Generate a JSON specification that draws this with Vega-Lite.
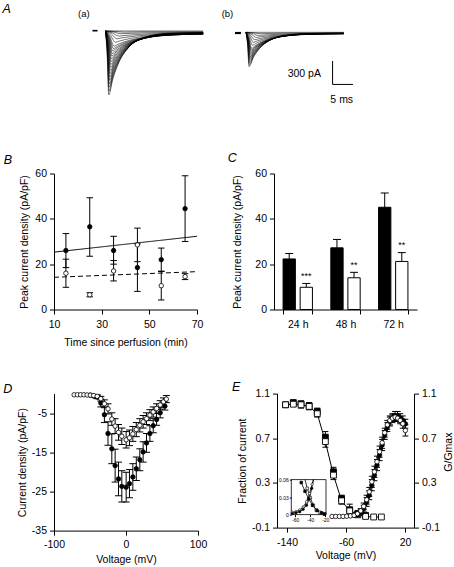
{
  "$schema": "https://vega.github.io/schema/vega-lite/v6.json",
  "padding": {"left": 2, "top": 3, "right": 0, "bottom": 0},
  "background": "white",
  "spacing": 32.6,
  "config": {
    "font": "Liberation Sans",
    "view": {"stroke": null},
    "locale": {"number": {"decimal": ".", "thousands": ",", "grouping": [3], "currency": ["$", ""], "minus": "-"}},
    "axis": {"grid": false, "domainColor": "#000", "domainWidth": 1, "tickColor": "#000", "tickWidth": 1, "tickSize": 4.5, "labelColor": "#000", "labelFontSize": 10.5, "labelFont": "Liberation Sans", "labelPadding": 3, "labelFlush": false, "labelOverlap": false, "titleColor": "#000", "titleFont": "Liberation Sans", "titleFontSize": 10.5, "titleFontWeight": "normal", "titlePadding": 4},
    "title": {"font": "Liberation Sans", "fontSize": 12.5, "fontStyle": "italic", "fontWeight": "normal", "anchor": "start", "frame": "group", "color": "#000", "baseline": "alphabetic", "offset": 0}
  },
  "datasets": {
    "ta": [
      {"k":"a0","t":0,"i":0},{"k":"a0","t":24,"i":0},
      {"k":"a1","t":0,"i":0},{"k":"a1","t":0.4,"i":-287},{"k":"a1","t":0.8,"i":-820},{"k":"a1","t":1.8,"i":-616},{"k":"a1","t":3.3,"i":-403},{"k":"a1","t":5.8,"i":-204},{"k":"a1","t":9.8,"i":-77},{"k":"a1","t":16,"i":-29},{"k":"a1","t":24,"i":-21},
      {"k":"c1","t":0,"i":0},{"k":"c1","t":0.425,"i":-270},{"k":"c1","t":0.85,"i":-770},{"k":"c1","t":1.85,"i":-584},{"k":"c1","t":3.35,"i":-388},{"k":"c1","t":5.85,"i":-201},{"k":"c1","t":9.85,"i":-78},{"k":"c1","t":16,"i":-31},{"k":"c1","t":24,"i":-22},
      {"k":"a2","t":0,"i":0},{"k":"a2","t":0.45,"i":-252},{"k":"a2","t":0.9,"i":-720},{"k":"a2","t":1.9,"i":-550},{"k":"a2","t":3.4,"i":-370},{"k":"a2","t":5.9,"i":-196},{"k":"a2","t":9.9,"i":-79},{"k":"a2","t":16,"i":-33},{"k":"a2","t":24,"i":-23},
      {"k":"c2","t":0,"i":0},{"k":"c2","t":0.475,"i":-236},{"k":"c2","t":0.95,"i":-675},{"k":"c2","t":1.95,"i":-521},{"k":"c2","t":3.45,"i":-355},{"k":"c2","t":5.95,"i":-193},{"k":"c2","t":9.95,"i":-81},{"k":"c2","t":16,"i":-35},{"k":"c2","t":24,"i":-25},
      {"k":"a3","t":0,"i":0},{"k":"a3","t":0.5,"i":-220},{"k":"a3","t":1.0,"i":-630},{"k":"a3","t":2.0,"i":-490},{"k":"a3","t":3.5,"i":-338},{"k":"a3","t":6.0,"i":-187},{"k":"a3","t":10,"i":-82},{"k":"a3","t":16,"i":-37},{"k":"a3","t":24,"i":-26},
      {"k":"c3","t":0,"i":0},{"k":"c3","t":0.525,"i":-206},{"k":"c3","t":1.05,"i":-588},{"k":"c3","t":2.05,"i":-461},{"k":"c3","t":3.55,"i":-322},{"k":"c3","t":6.05,"i":-182},{"k":"c3","t":10.05,"i":-82},{"k":"c3","t":16,"i":-38},{"k":"c3","t":24,"i":-28},
      {"k":"a4","t":0,"i":0},{"k":"a4","t":0.55,"i":-191},{"k":"a4","t":1.1,"i":-545},{"k":"a4","t":2.1,"i":-431},{"k":"a4","t":3.6,"i":-305},{"k":"a4","t":6.1,"i":-176},{"k":"a4","t":10.1,"i":-82},{"k":"a4","t":16,"i":-40},{"k":"a4","t":24,"i":-30},
      {"k":"c4","t":0,"i":0},{"k":"c4","t":0.59,"i":-177},{"k":"c4","t":1.18,"i":-505},{"k":"c4","t":2.18,"i":-403},{"k":"c4","t":3.68,"i":-290},{"k":"c4","t":6.18,"i":-172},{"k":"c4","t":10.18,"i":-83},{"k":"c4","t":16,"i":-42},{"k":"c4","t":24,"i":-31},
      {"k":"a5","t":0,"i":0},{"k":"a5","t":0.6,"i":-163},{"k":"a5","t":1.25,"i":-465},{"k":"a5","t":2.25,"i":-375},{"k":"a5","t":3.75,"i":-273},{"k":"a5","t":6.25,"i":-166},{"k":"a5","t":10.25,"i":-84},{"k":"a5","t":16,"i":-44},{"k":"a5","t":24,"i":-32},
      {"k":"c5","t":0,"i":0},{"k":"c5","t":0.66,"i":-150},{"k":"c5","t":1.32,"i":-428},{"k":"c5","t":2.32,"i":-348},{"k":"c5","t":3.82,"i":-257},{"k":"c5","t":6.32,"i":-160},{"k":"c5","t":10.32,"i":-84},{"k":"c5","t":16,"i":-46},{"k":"c5","t":24,"i":-34},
      {"k":"a6","t":0,"i":0},{"k":"a6","t":0.7,"i":-137},{"k":"a6","t":1.4,"i":-390},{"k":"a6","t":2.4,"i":-320},{"k":"a6","t":3.9,"i":-240},{"k":"a6","t":6.4,"i":-153},{"k":"a6","t":10.4,"i":-83},{"k":"a6","t":16,"i":-47},{"k":"a6","t":24,"i":-35},
      {"k":"c6","t":0,"i":0},{"k":"c6","t":0.75,"i":-124},{"k":"c6","t":1.5,"i":-355},{"k":"c6","t":2.5,"i":-294},{"k":"c6","t":4.0,"i":-224},{"k":"c6","t":6.5,"i":-147},{"k":"c6","t":10.5,"i":-82},{"k":"c6","t":16,"i":-48},{"k":"c6","t":24,"i":-36},
      {"k":"a7","t":0,"i":0},{"k":"a7","t":0.8,"i":-112},{"k":"a7","t":1.6,"i":-320},{"k":"a7","t":2.6,"i":-268},{"k":"a7","t":4.1,"i":-208},{"k":"a7","t":6.6,"i":-139},{"k":"a7","t":10.6,"i":-81},{"k":"a7","t":16,"i":-50},{"k":"a7","t":24,"i":-37},
      {"k":"c7","t":0,"i":0},{"k":"c7","t":0.85,"i":-101},{"k":"c7","t":1.7,"i":-288},{"k":"c7","t":2.7,"i":-244},{"k":"c7","t":4.2,"i":-192},{"k":"c7","t":6.7,"i":-133},{"k":"c7","t":10.7,"i":-81},{"k":"c7","t":16,"i":-52},{"k":"c7","t":24,"i":-38},
      {"k":"a8","t":0,"i":0},{"k":"a8","t":0.9,"i":-89},{"k":"a8","t":1.8,"i":-255},{"k":"a8","t":2.8,"i":-218},{"k":"a8","t":4.3,"i":-175},{"k":"a8","t":6.8,"i":-124},{"k":"a8","t":10.8,"i":-78},{"k":"a8","t":16,"i":-52},{"k":"a8","t":24,"i":-39},
      {"k":"c8","t":0,"i":0},{"k":"c8","t":0.975,"i":-79},{"k":"c8","t":1.95,"i":-225},{"k":"c8","t":2.95,"i":-195},{"k":"c8","t":4.45,"i":-158},{"k":"c8","t":6.95,"i":-115},{"k":"c8","t":10.95,"i":-75},{"k":"c8","t":16,"i":-51},{"k":"c8","t":24,"i":-39},
      {"k":"a9","t":0,"i":0},{"k":"a9","t":1.05,"i":-68},{"k":"a9","t":2.1,"i":-195},{"k":"a9","t":3.1,"i":-170},{"k":"a9","t":4.6,"i":-140},{"k":"a9","t":7.1,"i":-105},{"k":"a9","t":11.1,"i":-71},{"k":"a9","t":16,"i":-51},{"k":"a9","t":24,"i":-39},
      {"k":"a10","t":0,"i":0},{"k":"a10","t":1.2,"i":-51},{"k":"a10","t":2.4,"i":-145},{"k":"a10","t":3.4,"i":-129},{"k":"a10","t":4.9,"i":-109},{"k":"a10","t":7.4,"i":-84},{"k":"a10","t":11.4,"i":-60},{"k":"a10","t":16,"i":-46},{"k":"a10","t":24,"i":-36},
      {"k":"a11","t":0,"i":0},{"k":"a11","t":1.4,"i":-35},{"k":"a11","t":2.8,"i":-100},{"k":"a11","t":3.8,"i":-90},{"k":"a11","t":5.3,"i":-78},{"k":"a11","t":7.8,"i":-63},{"k":"a11","t":11.8,"i":-48},{"k":"a11","t":16,"i":-39},{"k":"a11","t":24,"i":-31},
      {"k":"a12","t":0,"i":0},{"k":"a12","t":1.65,"i":-23},{"k":"a12","t":3.3,"i":-65},{"k":"a12","t":4.3,"i":-60},{"k":"a12","t":5.8,"i":-53},{"k":"a12","t":8.3,"i":-44},{"k":"a12","t":12.3,"i":-35},{"k":"a12","t":16,"i":-30},{"k":"a12","t":24,"i":-25},
      {"k":"a13","t":0,"i":0},{"k":"a13","t":1.9,"i":-12},{"k":"a13","t":3.8,"i":-35},{"k":"a13","t":4.8,"i":-33},{"k":"a13","t":6.3,"i":-30},{"k":"a13","t":8.8,"i":-26},{"k":"a13","t":12.8,"i":-22},{"k":"a13","t":16,"i":-19},{"k":"a13","t":24,"i":-17},
      {"k":"a14","t":0,"i":0},{"k":"a14","t":2.25,"i":-5},{"k":"a14","t":4.5,"i":-15},{"k":"a14","t":5.5,"i":-14},{"k":"a14","t":7,"i":-13},{"k":"a14","t":9.5,"i":-11},{"k":"a14","t":13.5,"i":-10},{"k":"a14","t":16,"i":-9.5},{"k":"a14","t":24,"i":-8.5}
    ],
    "tb": [
      {"k":"b0","t":0,"i":0},{"k":"b0","t":24,"i":0},
      {"k":"b1","t":0,"i":0},{"k":"b1","t":0.375,"i":-154},{"k":"b1","t":0.75,"i":-440},{"k":"b1","t":1.75,"i":-328},{"k":"b1","t":3.25,"i":-212},{"k":"b1","t":5.75,"i":-105},{"k":"b1","t":9.75,"i":-38},{"k":"b1","t":16,"i":-14},{"k":"b1","t":24,"i":-10},
      {"k":"d1","t":0,"i":0},{"k":"d1","t":0.4,"i":-144},{"k":"d1","t":0.8,"i":-412},{"k":"d1","t":1.8,"i":-310},{"k":"d1","t":3.3,"i":-203},{"k":"d1","t":5.8,"i":-103},{"k":"d1","t":9.8,"i":-39},{"k":"d1","t":16,"i":-16},{"k":"d1","t":24,"i":-11},
      {"k":"b2","t":0,"i":0},{"k":"b2","t":0.425,"i":-135},{"k":"b2","t":0.85,"i":-385},{"k":"b2","t":1.85,"i":-292},{"k":"b2","t":3.35,"i":-195},{"k":"b2","t":5.85,"i":-101},{"k":"b2","t":9.85,"i":-40},{"k":"b2","t":16,"i":-17},{"k":"b2","t":24,"i":-12},
      {"k":"d2","t":0,"i":0},{"k":"d2","t":0.45,"i":-126},{"k":"d2","t":0.9,"i":-360},{"k":"d2","t":1.9,"i":-276},{"k":"d2","t":3.4,"i":-186},{"k":"d2","t":5.9,"i":-100},{"k":"d2","t":9.9,"i":-41},{"k":"d2","t":16,"i":-18},{"k":"d2","t":24,"i":-13},
      {"k":"b3","t":0,"i":0},{"k":"b3","t":0.475,"i":-117},{"k":"b3","t":0.95,"i":-335},{"k":"b3","t":1.95,"i":-259},{"k":"b3","t":3.45,"i":-177},{"k":"b3","t":5.95,"i":-97},{"k":"b3","t":9.95,"i":-42},{"k":"b3","t":16,"i":-19},{"k":"b3","t":24,"i":-15},
      {"k":"d3","t":0,"i":0},{"k":"d3","t":0.5,"i":-109},{"k":"d3","t":1.0,"i":-312},{"k":"d3","t":2.0,"i":-243},{"k":"d3","t":3.5,"i":-169},{"k":"d3","t":6.0,"i":-94},{"k":"d3","t":10,"i":-42},{"k":"d3","t":16,"i":-20},{"k":"d3","t":24,"i":-15},
      {"k":"b4","t":0,"i":0},{"k":"b4","t":0.525,"i":-102},{"k":"b4","t":1.05,"i":-290},{"k":"b4","t":2.05,"i":-228},{"k":"b4","t":3.55,"i":-160},{"k":"b4","t":6.05,"i":-91},{"k":"b4","t":10.05,"i":-42},{"k":"b4","t":16,"i":-21},{"k":"b4","t":24,"i":-16},
      {"k":"d4","t":0,"i":0},{"k":"d4","t":0.56,"i":-93},{"k":"d4","t":1.12,"i":-267},{"k":"d4","t":2.12,"i":-212},{"k":"d4","t":3.62,"i":-151},{"k":"d4","t":6.12,"i":-89},{"k":"d4","t":10.12,"i":-43},{"k":"d4","t":16,"i":-22},{"k":"d4","t":24,"i":-16},
      {"k":"b5","t":0,"i":0},{"k":"b5","t":0.6,"i":-86},{"k":"b5","t":1.2,"i":-245},{"k":"b5","t":2.2,"i":-196},{"k":"b5","t":3.7,"i":-142},{"k":"b5","t":6.2,"i":-86},{"k":"b5","t":10.2,"i":-43},{"k":"b5","t":16,"i":-23},{"k":"b5","t":24,"i":-17},
      {"k":"d5","t":0,"i":0},{"k":"d5","t":0.64,"i":-79},{"k":"d5","t":1.28,"i":-225},{"k":"d5","t":2.28,"i":-182},{"k":"d5","t":3.78,"i":-134},{"k":"d5","t":6.28,"i":-83},{"k":"d5","t":10.28,"i":-43},{"k":"d5","t":16,"i":-24},{"k":"d5","t":24,"i":-17},
      {"k":"b6","t":0,"i":0},{"k":"b6","t":0.675,"i":-72},{"k":"b6","t":1.35,"i":-205},{"k":"b6","t":2.35,"i":-168},{"k":"b6","t":3.85,"i":-125},{"k":"b6","t":6.35,"i":-79},{"k":"b6","t":10.35,"i":-42},{"k":"b6","t":16,"i":-24},{"k":"b6","t":24,"i":-18},
      {"k":"b7","t":0,"i":0},{"k":"b7","t":0.775,"i":-58},{"k":"b7","t":1.55,"i":-165},{"k":"b7","t":2.55,"i":-138},{"k":"b7","t":4.05,"i":-106},{"k":"b7","t":6.55,"i":-70},{"k":"b7","t":10.55,"i":-41},{"k":"b7","t":16,"i":-25},{"k":"b7","t":24,"i":-18.5},
      {"k":"b8","t":0,"i":0},{"k":"b8","t":0.9,"i":-45},{"k":"b8","t":1.8,"i":-128},{"k":"b8","t":2.8,"i":-109},{"k":"b8","t":4.3,"i":-86},{"k":"b8","t":6.8,"i":-60},{"k":"b8","t":10.8,"i":-37},{"k":"b8","t":16,"i":-24},{"k":"b8","t":24,"i":-18},
      {"k":"b9","t":0,"i":0},{"k":"b9","t":1.05,"i":-33},{"k":"b9","t":2.1,"i":-95},{"k":"b9","t":3.1,"i":-83},{"k":"b9","t":4.6,"i":-67},{"k":"b9","t":7.1,"i":-49},{"k":"b9","t":11.1,"i":-32},{"k":"b9","t":16,"i":-22},{"k":"b9","t":24,"i":-16},
      {"k":"b10","t":0,"i":0},{"k":"b10","t":1.25,"i":-23},{"k":"b10","t":2.5,"i":-65},{"k":"b10","t":3.5,"i":-57},{"k":"b10","t":5.0,"i":-48},{"k":"b10","t":7.5,"i":-37},{"k":"b10","t":11.5,"i":-25},{"k":"b10","t":16,"i":-19},{"k":"b10","t":24,"i":-14},
      {"k":"b11","t":0,"i":0},{"k":"b11","t":1.5,"i":-14},{"k":"b11","t":3.0,"i":-40},{"k":"b11","t":4.0,"i":-36},{"k":"b11","t":5.5,"i":-31},{"k":"b11","t":8.0,"i":-25},{"k":"b11","t":12.0,"i":-18},{"k":"b11","t":16,"i":-15},{"k":"b11","t":24,"i":-11.5},
      {"k":"b12","t":0,"i":0},{"k":"b12","t":1.8,"i":-6},{"k":"b12","t":3.6,"i":-18},{"k":"b12","t":4.6,"i":-16.5},{"k":"b12","t":6.1,"i":-14.6},{"k":"b12","t":8.6,"i":-12.2},{"k":"b12","t":12.6,"i":-9.6},{"k":"b12","t":16,"i":-8.7},{"k":"b12","t":24,"i":-6.6}
    ],
    "bd": [
      {"t":15,"v":26,"lo":18.5,"hi":33.5,"g":"filled"},
      {"t":25,"v":36.5,"lo":23.5,"hi":49.3,"g":"filled"},
      {"t":35,"v":26,"lo":20,"hi":32.3,"g":"filled"},
      {"t":45,"v":18.5,"lo":8,"hi":29,"g":"filled"},
      {"t":55,"v":22,"lo":16.9,"hi":27.1,"g":"filled"},
      {"t":65,"v":44.5,"lo":30,"hi":59,"g":"filled"},
      {"t":15,"v":16,"lo":9.8,"hi":22.2,"g":"open"},
      {"t":25,"v":6.5,"lo":5.6,"hi":7.4,"g":"open"},
      {"t":35,"v":17,"lo":12.6,"hi":21.6,"g":"open"},
      {"t":45,"v":28.5,"lo":21.1,"hi":35.9,"g":"open"},
      {"t":55,"v":10.5,"lo":4.2,"hi":16.8,"g":"open"},
      {"t":65,"v":14.5,"lo":13.2,"hi":15.8,"g":"open"}
    ],
    "bl": [
      {"g":"fit1","t":10,"v":25.3},{"g":"fit1","t":70,"v":32.3},
      {"g":"fit2","t":10,"v":14.2},{"g":"fit2","t":70,"v":16.7}
    ],
    "cd": [
      {"time":"24 h","grp":"ctrl","v":22.3,"hi":24.7,"sig":""},
      {"time":"24 h","grp":"trt","v":9.8,"hi":11.5,"sig":"***"},
      {"time":"48 h","grp":"ctrl","v":27.2,"hi":30.9,"sig":""},
      {"time":"48 h","grp":"trt","v":14,"hi":16.4,"sig":"**"},
      {"time":"72 h","grp":"ctrl","v":45.1,"hi":51.4,"sig":""},
      {"time":"72 h","grp":"trt","v":21.2,"hi":25.1,"sig":"**"}
    ],
    "dd": [
      {"g":"filled","v":-49.5,"y":-0.4,"lo":null,"hi":null},
      {"g":"filled","v":-45,"y":-0.6,"lo":null,"hi":null},
      {"g":"filled","v":-40,"y":-0.9,"lo":-1.3,"hi":-0.5},
      {"g":"filled","v":-35,"y":-2.4,"lo":-3.4,"hi":-1.4},
      {"g":"filled","v":-30,"y":-5.4,"lo":-7.4,"hi":-3.4},
      {"g":"filled","v":-25,"y":-10.2,"lo":-13.2,"hi":-7.2},
      {"g":"filled","v":-19.7,"y":-14.1,"lo":-17.9,"hi":-10.3},
      {"g":"filled","v":-15.1,"y":-18.4,"lo":-22.6,"hi":-14.2},
      {"g":"filled","v":-10.4,"y":-21.8,"lo":-26.1,"hi":-17.5},
      {"g":"filled","v":-5.8,"y":-23.7,"lo":-27.7,"hi":-19.7},
      {"g":"filled","v":0.2,"y":-23.9,"lo":-27.7,"hi":-20.1},
      {"g":"filled","v":4.8,"y":-23.0,"lo":-26.6,"hi":-19.4},
      {"g":"filled","v":9.5,"y":-21.3,"lo":-24.7,"hi":-17.9},
      {"g":"filled","v":14.3,"y":-19.2,"lo":-22.2,"hi":-16.2},
      {"g":"filled","v":19.2,"y":-16.9,"lo":-19.7,"hi":-14.1},
      {"g":"filled","v":23.8,"y":-14.9,"lo":-17.5,"hi":-12.3},
      {"g":"filled","v":28.5,"y":-12.6,"lo":-15.0,"hi":-10.2},
      {"g":"filled","v":33.2,"y":-10.2,"lo":-12.2,"hi":-8.2},
      {"g":"filled","v":37.8,"y":-8.2,"lo":-10.0,"hi":-6.4},
      {"g":"filled","v":42.5,"y":-6.6,"lo":-8.1,"hi":-5.1},
      {"g":"filled","v":47.5,"y":-4.9,"lo":-6.2,"hi":-3.6},
      {"g":"filled","v":54,"y":-3.2,"lo":-4.2,"hi":-2.2},
      {"g":"open","v":-72,"y":-0.3,"lo":null,"hi":null},
      {"g":"open","v":-67.5,"y":-0.3,"lo":null,"hi":null},
      {"g":"open","v":-63,"y":-0.3,"lo":null,"hi":null},
      {"g":"open","v":-58.5,"y":-0.3,"lo":null,"hi":null},
      {"g":"open","v":-54,"y":-0.35,"lo":null,"hi":null},
      {"g":"open","v":-49.5,"y":-0.4,"lo":null,"hi":null},
      {"g":"open","v":-45,"y":-0.5,"lo":-0.8,"hi":-0.2},
      {"g":"open","v":-40,"y":-0.7,"lo":-1.1,"hi":-0.3},
      {"g":"open","v":-35,"y":-1.3,"lo":-1.9,"hi":-0.7},
      {"g":"open","v":-30,"y":-2.6,"lo":-3.6,"hi":-1.6},
      {"g":"open","v":-25,"y":-3.9,"lo":-5.2,"hi":-2.6},
      {"g":"open","v":-19.7,"y":-6.5,"lo":-8.1,"hi":-4.9},
      {"g":"open","v":-15.1,"y":-8.3,"lo":-10.2,"hi":-6.4},
      {"g":"open","v":-10.4,"y":-9.9,"lo":-11.9,"hi":-7.9},
      {"g":"open","v":-5.8,"y":-10.9,"lo":-13.0,"hi":-8.8},
      {"g":"open","v":0.2,"y":-11.8,"lo":-13.9,"hi":-9.7},
      {"g":"open","v":4.8,"y":-11.3,"lo":-13.3,"hi":-9.3},
      {"g":"open","v":9.5,"y":-10.3,"lo":-12.2,"hi":-8.4},
      {"g":"open","v":14.3,"y":-9.2,"lo":-11.0,"hi":-7.4},
      {"g":"open","v":19.2,"y":-8.1,"lo":-9.8,"hi":-6.4},
      {"g":"open","v":23.8,"y":-7.2,"lo":-8.8,"hi":-5.6},
      {"g":"open","v":28.5,"y":-6.4,"lo":-7.9,"hi":-4.9},
      {"g":"open","v":33.2,"y":-5.5,"lo":-6.9,"hi":-4.1},
      {"g":"open","v":37.8,"y":-4.7,"lo":-6.0,"hi":-3.4},
      {"g":"open","v":42.5,"y":-3.8,"lo":-5.0,"hi":-2.6},
      {"g":"open","v":47.5,"y":-2.9,"lo":-4.0,"hi":-1.8},
      {"g":"open","v":52,"y":-2.1,"lo":-3.1,"hi":-1.1},
      {"g":"open","v":56,"y":-1.4,"lo":-2.3,"hi":-0.5}
    ],
    "ei": [
      {"g":"filled","v":-142,"y":1.0,"lo":null,"hi":null},
      {"g":"filled","v":-131.5,"y":1.02,"lo":1.0,"hi":1.04},
      {"g":"filled","v":-121,"y":1.01,"lo":0.99,"hi":1.03},
      {"g":"filled","v":-110,"y":0.99,"lo":0.96,"hi":1.02},
      {"g":"filled","v":-99,"y":0.94,"lo":0.91,"hi":0.97},
      {"g":"filled","v":-88,"y":0.71,"lo":0.66,"hi":0.76},
      {"g":"filled","v":-77,"y":0.40,"lo":0.36,"hi":0.44},
      {"g":"filled","v":-66,"y":0.16,"lo":0.13,"hi":0.19},
      {"g":"filled","v":-55,"y":0.06,"lo":0.01,"hi":0.11},
      {"g":"filled","v":-44,"y":0.025,"lo":0.0,"hi":0.05},
      {"g":"filled","v":-33.5,"y":0.01,"lo":null,"hi":null},
      {"g":"open","v":-142,"y":1.0,"lo":0.98,"hi":1.02},
      {"g":"open","v":-131.5,"y":1.005,"lo":0.985,"hi":1.025},
      {"g":"open","v":-121,"y":1.0,"lo":0.97,"hi":1.03},
      {"g":"open","v":-110,"y":0.985,"lo":0.955,"hi":1.015},
      {"g":"open","v":-99,"y":0.92,"lo":0.89,"hi":0.95},
      {"g":"open","v":-88,"y":0.67,"lo":0.62,"hi":0.72},
      {"g":"open","v":-77,"y":0.37,"lo":0.33,"hi":0.41},
      {"g":"open","v":-66,"y":0.14,"lo":0.11,"hi":0.17},
      {"g":"open","v":-55,"y":0.05,"lo":0.02,"hi":0.08},
      {"g":"open","v":-44,"y":0.015,"lo":-0.01,"hi":0.04},
      {"g":"open","v":-33.5,"y":0.0,"lo":null,"hi":null},
      {"g":"open","v":-22.5,"y":-0.005,"lo":null,"hi":null},
      {"g":"open","v":-12,"y":-0.005,"lo":null,"hi":null}
    ],
    "ea": [
      {"g":"filled","v":-49,"y":0.01,"lo":null,"hi":null},
      {"g":"filled","v":-44.5,"y":0.02,"lo":0.0,"hi":0.04},
      {"g":"filled","v":-40,"y":0.04,"lo":0.02,"hi":0.06},
      {"g":"filled","v":-36,"y":0.07,"lo":0.04,"hi":0.10},
      {"g":"filled","v":-32,"y":0.13,"lo":0.09,"hi":0.17},
      {"g":"filled","v":-28.5,"y":0.19,"lo":0.15,"hi":0.23},
      {"g":"filled","v":-25,"y":0.28,"lo":0.23,"hi":0.33},
      {"g":"filled","v":-21.5,"y":0.37,"lo":0.32,"hi":0.42},
      {"g":"filled","v":-18,"y":0.46,"lo":0.41,"hi":0.51},
      {"g":"filled","v":-14.5,"y":0.55,"lo":0.50,"hi":0.60},
      {"g":"filled","v":-11,"y":0.64,"lo":0.59,"hi":0.69},
      {"g":"filled","v":-7.5,"y":0.73,"lo":0.69,"hi":0.77},
      {"g":"filled","v":-4,"y":0.80,"lo":0.76,"hi":0.84},
      {"g":"filled","v":-0.5,"y":0.85,"lo":0.81,"hi":0.89},
      {"g":"filled","v":3,"y":0.88,"lo":0.84,"hi":0.92},
      {"g":"filled","v":6.5,"y":0.90,"lo":0.86,"hi":0.94},
      {"g":"filled","v":10,"y":0.90,"lo":0.86,"hi":0.94},
      {"g":"filled","v":13.5,"y":0.88,"lo":0.84,"hi":0.92},
      {"g":"filled","v":17,"y":0.86,"lo":0.82,"hi":0.90},
      {"g":"filled","v":20.5,"y":0.83,"lo":0.79,"hi":0.87},
      {"g":"open","v":-79,"y":0.0,"lo":null,"hi":null},
      {"g":"open","v":-74,"y":0.0,"lo":null,"hi":null},
      {"g":"open","v":-69,"y":0.0,"lo":null,"hi":null},
      {"g":"open","v":-64,"y":0.0,"lo":null,"hi":null},
      {"g":"open","v":-59,"y":0.002,"lo":null,"hi":null},
      {"g":"open","v":-54,"y":0.005,"lo":null,"hi":null},
      {"g":"open","v":-49,"y":0.01,"lo":null,"hi":null},
      {"g":"open","v":-44.5,"y":0.025,"lo":0.01,"hi":0.04},
      {"g":"open","v":-40,"y":0.05,"lo":0.03,"hi":0.07},
      {"g":"open","v":-36,"y":0.09,"lo":0.06,"hi":0.12},
      {"g":"open","v":-32,"y":0.15,"lo":0.11,"hi":0.19},
      {"g":"open","v":-28.5,"y":0.22,"lo":0.18,"hi":0.26},
      {"g":"open","v":-25,"y":0.31,"lo":0.26,"hi":0.36},
      {"g":"open","v":-21.5,"y":0.40,"lo":0.35,"hi":0.45},
      {"g":"open","v":-18,"y":0.49,"lo":0.44,"hi":0.54},
      {"g":"open","v":-14.5,"y":0.58,"lo":0.53,"hi":0.63},
      {"g":"open","v":-11,"y":0.66,"lo":0.61,"hi":0.71},
      {"g":"open","v":-7.5,"y":0.75,"lo":0.71,"hi":0.79},
      {"g":"open","v":-4,"y":0.82,"lo":0.78,"hi":0.86},
      {"g":"open","v":-0.5,"y":0.86,"lo":0.82,"hi":0.90},
      {"g":"open","v":3,"y":0.88,"lo":0.85,"hi":0.91},
      {"g":"open","v":6.5,"y":0.89,"lo":0.86,"hi":0.92},
      {"g":"open","v":10,"y":0.88,"lo":0.85,"hi":0.91},
      {"g":"open","v":13.5,"y":0.86,"lo":0.83,"hi":0.89},
      {"g":"open","v":17,"y":0.83,"lo":0.79,"hi":0.87},
      {"g":"open","v":20.5,"y":0.77,"lo":0.72,"hi":0.82}
    ],
    "ins": [
      {"s":"oc","m":"c","f":"open","v":-64,"y":0.004},{"s":"oc","m":"c","f":"open","v":-59,"y":0.005},{"s":"oc","m":"c","f":"open","v":-54,"y":0.008},{"s":"oc","m":"c","f":"open","v":-49.5,"y":0.013},{"s":"oc","m":"c","f":"open","v":-45,"y":0.022},{"s":"oc","m":"c","f":"open","v":-41,"y":0.036},{"s":"oc","m":"c","f":"open","v":-37.5,"y":0.052},{"s":"oc","m":"c","f":"open","v":-36,"y":0.06},
      {"s":"fc","m":"c","f":"filled","v":-64,"y":0.002},{"s":"fc","m":"c","f":"filled","v":-59,"y":0.003},{"s":"fc","m":"c","f":"filled","v":-54,"y":0.005},{"s":"fc","m":"c","f":"filled","v":-49.5,"y":0.009},{"s":"fc","m":"c","f":"filled","v":-45,"y":0.016},{"s":"fc","m":"c","f":"filled","v":-41,"y":0.028},{"s":"fc","m":"c","f":"filled","v":-38,"y":0.045},{"s":"fc","m":"c","f":"filled","v":-35.5,"y":0.06},
      {"s":"os","m":"s","f":"open","v":-47,"y":0.06},{"s":"os","m":"s","f":"open","v":-44,"y":0.045},{"s":"os","m":"s","f":"open","v":-40,"y":0.029},{"s":"os","m":"s","f":"open","v":-36,"y":0.016},{"s":"os","m":"s","f":"open","v":-32,"y":0.008},{"s":"os","m":"s","f":"open","v":-27,"y":0.004},{"s":"os","m":"s","f":"open","v":-21,"y":0.001},
      {"s":"fs","m":"s","f":"filled","v":-52,"y":0.055},{"s":"fs","m":"s","f":"filled","v":-47,"y":0.04},{"s":"fs","m":"s","f":"filled","v":-42,"y":0.027},{"s":"fs","m":"s","f":"filled","v":-37,"y":0.016},{"s":"fs","m":"s","f":"filled","v":-31,"y":0.007},{"s":"fs","m":"s","f":"filled","v":-25,"y":0.003},{"s":"fs","m":"s","f":"filled","v":-21,"y":0.001}
    ]
  },
  "vconcat": [
    {
      "spacing": 31.5,
      "vconcat": [
        {
          "spacing": 15,
          "hconcat": [
            {
              "width": 152, "height": 105,
              "title": {"text": "A", "dx": -51.5, "dy": 10.5},
              "layer": [
                {"data": {"name": "ta"}, "mark": {"type": "line", "strokeWidth": 0.55, "color": "#000", "interpolate": "monotone"},
                 "encoding": {"x": {"field": "t", "type": "quantitative", "scale": {"domain": [-12.65, 24.7]}, "axis": null},
                              "y": {"field": "i", "type": "quantitative", "scale": {"domain": [-1141, 205]}, "axis": null},
                              "detail": {"field": "k", "type": "nominal"}}},
                {"data": {"values": [{}]}, "mark": {"type": "rule", "strokeWidth": 1.6, "color": "#000"},
                 "encoding": {"x": {"datum": -3.2, "type": "quantitative", "scale": {"domain": [-12.65, 24.7]}, "axis": null}, "x2": {"datum": -1.95},
                              "y": {"datum": 4, "type": "quantitative", "scale": {"domain": [-1141, 205]}, "axis": null}}},
                {"data": {"values": [{}]}, "mark": {"type": "text", "text": "(a)", "fontSize": 9.5, "baseline": "middle", "color": "#000"},
                 "encoding": {"x": {"datum": -5.3, "type": "quantitative", "scale": {"domain": [-12.65, 24.7]}, "axis": null},
                              "y": {"datum": 214, "type": "quantitative", "scale": {"domain": [-1141, 205]}, "axis": null}}}
              ]
            },
            {
              "width": 131, "height": 105,
              "layer": [
                {"data": {"name": "tb"}, "mark": {"type": "line", "strokeWidth": 0.55, "color": "#000", "interpolate": "monotone"},
                 "encoding": {"x": {"field": "t", "type": "quantitative", "scale": {"domain": [-5.16, 27.0]}, "axis": null},
                              "y": {"field": "i", "type": "quantitative", "scale": {"domain": [-1124, 222]}, "axis": null},
                              "detail": {"field": "k", "type": "nominal"}}},
                {"data": {"values": [{}]}, "mark": {"type": "rule", "strokeWidth": 2.2, "color": "#000"},
                 "encoding": {"x": {"datum": -2.7, "type": "quantitative", "scale": {"domain": [-5.16, 27.0]}, "axis": null}, "x2": {"datum": -1.25},
                              "y": {"datum": -9, "type": "quantitative", "scale": {"domain": [-1124, 222]}, "axis": null}}},
                {"data": {"values": [{}]}, "mark": {"type": "rule", "strokeWidth": 1, "color": "#000"},
                 "encoding": {"x": {"datum": 21.25, "type": "quantitative", "scale": {"domain": [-5.16, 27.0]}, "axis": null},
                              "y": {"datum": -368, "type": "quantitative", "scale": {"domain": [-1124, 222]}, "axis": null}, "y2": {"datum": -668}}},
                {"data": {"values": [{}]}, "mark": {"type": "rule", "strokeWidth": 1, "color": "#000"},
                 "encoding": {"x": {"datum": 21.25, "type": "quantitative", "scale": {"domain": [-5.16, 27.0]}, "axis": null}, "x2": {"datum": 26.25},
                              "y": {"datum": -668, "type": "quantitative", "scale": {"domain": [-1124, 222]}, "axis": null}}},
                {"data": {"values": [{}]}, "mark": {"type": "text", "text": "(b)", "fontSize": 9.5, "baseline": "middle", "color": "#000"},
                 "encoding": {"x": {"datum": -4.55, "type": "quantitative", "scale": {"domain": [-5.16, 27.0]}, "axis": null},
                              "y": {"datum": 235, "type": "quantitative", "scale": {"domain": [-1124, 222]}, "axis": null}}},
                {"data": {"values": [{}]}, "mark": {"type": "text", "text": "300 pA", "fontSize": 10.5, "baseline": "middle", "align": "right", "color": "#000"},
                 "encoding": {"x": {"datum": 18.4, "type": "quantitative", "scale": {"domain": [-5.16, 27.0]}, "axis": null},
                              "y": {"datum": -535, "type": "quantitative", "scale": {"domain": [-1124, 222]}, "axis": null}}},
                {"data": {"values": [{}]}, "mark": {"type": "text", "text": "5 ms", "fontSize": 10.5, "baseline": "middle", "align": "center", "color": "#000"},
                 "encoding": {"x": {"datum": 23.5, "type": "quantitative", "scale": {"domain": [-5.16, 27.0]}, "axis": null},
                              "y": {"datum": -862, "type": "quantitative", "scale": {"domain": [-1124, 222]}, "axis": null}}}
              ]
            }
          ]
        },
        {
          "spacing": 24,
          "hconcat": [
            {
              "width": 143, "height": 136,
              "title": {"text": "B", "dx": -50.2, "dy": 1.5},
              "layer": [
                {"data": {"name": "bl"}, "mark": {"type": "line", "strokeWidth": 1, "color": "#000"},
                 "encoding": {"x": {"field": "t", "type": "quantitative", "scale": {"domain": [10, 70]}, "axis": {"values": [10, 30, 50, 70], "title": "Time since perfusion (min)", "labelPadding": 5.5, "titlePadding": 7.4}},
                              "y": {"field": "v", "type": "quantitative", "scale": {"domain": [0, 60]}, "axis": {"values": [0, 20, 40, 60], "title": "Peak current density (pA/pF)", "titlePadding": 5}},
                              "strokeDash": {"field": "g", "type": "nominal", "scale": {"domain": ["fit1", "fit2"], "range": [[1, 0], [5, 3]]}, "legend": null}}},
                {"data": {"name": "bd"}, "mark": {"type": "rule", "strokeWidth": 1, "color": "#000"},
                 "encoding": {"x": {"field": "t", "type": "quantitative", "scale": {"domain": [10, 70]}},
                              "y": {"field": "lo", "type": "quantitative", "scale": {"domain": [0, 60]}}, "y2": {"field": "hi"}}},
                {"data": {"name": "bd"}, "mark": {"type": "tick", "orient": "horizontal", "size": 6.5, "thickness": 1, "color": "#000", "opacity": 1},
                 "encoding": {"x": {"field": "t", "type": "quantitative", "scale": {"domain": [10, 70]}},
                              "y": {"field": "lo", "type": "quantitative", "scale": {"domain": [0, 60]}}}},
                {"data": {"name": "bd"}, "mark": {"type": "tick", "orient": "horizontal", "size": 6.5, "thickness": 1, "color": "#000", "opacity": 1},
                 "encoding": {"x": {"field": "t", "type": "quantitative", "scale": {"domain": [10, 70]}},
                              "y": {"field": "hi", "type": "quantitative", "scale": {"domain": [0, 60]}}}},
                {"data": {"name": "bd"}, "mark": {"type": "circle", "size": 20, "stroke": "#000", "strokeWidth": 0.8, "opacity": 1},
                 "encoding": {"x": {"field": "t", "type": "quantitative", "scale": {"domain": [10, 70]}},
                              "y": {"field": "v", "type": "quantitative", "scale": {"domain": [0, 60]}},
                              "fill": {"field": "g", "type": "nominal", "scale": {"domain": ["filled", "open"], "range": ["#000", "#fff"]}, "legend": null}}}
              ]
            },
            {
              "width": 143, "height": 136,
              "title": {"text": "C", "dx": -46.3, "dy": -0.5},
              "data": {"name": "cd"},
              "encoding": {
                "x": {"field": "time", "type": "nominal", "sort": ["24 h", "48 h", "72 h"], "scale": {"paddingInner": 0.385, "paddingOuter": 0.19}, "axis": {"title": null, "labelAngle": 0, "tickBand": "extent", "labelPadding": 5}},
                "xOffset": {"field": "grp", "type": "nominal", "sort": ["ctrl", "trt"], "scale": {"paddingInner": 0.28, "paddingOuter": 0}}
              },
              "layer": [
                {"mark": {"type": "rule", "strokeWidth": 1, "color": "#000"},
                 "encoding": {"y": {"field": "v", "type": "quantitative", "scale": {"domain": [0, 60]}, "axis": {"values": [0, 20, 40, 60], "title": "Peak current density (pA/pF)", "titlePadding": 12}}, "y2": {"field": "hi"}}},
                {"mark": {"type": "tick", "size": 8, "thickness": 1, "color": "#000", "opacity": 1},
                 "encoding": {"y": {"field": "hi", "type": "quantitative", "scale": {"domain": [0, 60]}}}},
                {"mark": {"type": "bar", "stroke": "#000", "strokeWidth": 1, "opacity": 1},
                 "encoding": {"y": {"field": "v", "type": "quantitative", "scale": {"domain": [0, 60]}},
                              "fill": {"field": "grp", "type": "nominal", "scale": {"domain": ["ctrl", "trt"], "range": ["#000", "#fff"]}, "legend": null}}},
                {"mark": {"type": "text", "fontSize": 9, "baseline": "alphabetic", "dy": -4.5, "color": "#000"},
                 "encoding": {"y": {"field": "hi", "type": "quantitative", "scale": {"domain": [0, 60]}}, "text": {"field": "sig"}}}
              ]
            }
          ]
        }
      ]
    },
    {
      "spacing": 25,
      "hconcat": [
        {
          "width": 144, "height": 137,
          "title": {"text": "D", "dx": -50.8, "dy": 9},
          "data": {"name": "dd"},
          "layer": [
            {"mark": {"type": "rule", "strokeWidth": 1, "color": "#000"},
             "encoding": {"x": {"field": "v", "type": "quantitative", "scale": {"domain": [-100, 100]}, "axis": {"values": [-100, -50, 0, 50, 100], "title": "Voltage (mV)", "labelPadding": 4.5, "titlePadding": 4}},
                          "y": {"field": "lo", "type": "quantitative", "scale": {"domain": [-35, 0]}, "axis": {"values": [-35, -25, -15, -5], "title": "Current density (pA/pF)", "titlePadding": 4}}, "y2": {"field": "hi"}}},
            {"mark": {"type": "tick", "orient": "horizontal", "size": 7, "thickness": 1, "color": "#000", "opacity": 1},
             "encoding": {"x": {"field": "v", "type": "quantitative", "scale": {"domain": [-100, 100]}},
                          "y": {"field": "lo", "type": "quantitative", "scale": {"domain": [-35, 0]}}}},
            {"mark": {"type": "tick", "orient": "horizontal", "size": 7, "thickness": 1, "color": "#000", "opacity": 1},
             "encoding": {"x": {"field": "v", "type": "quantitative", "scale": {"domain": [-100, 100]}},
                          "y": {"field": "hi", "type": "quantitative", "scale": {"domain": [-35, 0]}}}},
            {"mark": {"type": "circle", "size": 20, "stroke": "#000", "strokeWidth": 0.8, "opacity": 1},
             "encoding": {"x": {"field": "v", "type": "quantitative", "scale": {"domain": [-100, 100]}},
                          "y": {"field": "y", "type": "quantitative", "scale": {"domain": [-35, 0]}},
                          "fill": {"field": "g", "type": "nominal", "scale": {"domain": ["filled", "open"], "range": ["#000", "#fff"]}, "legend": null}}}
          ]
        },
        {
          "width": 137, "height": 134,
          "title": {"text": "E", "dx": -45, "dy": 9.25},
          "layer": [
            {
              "data": {"name": "ei"},
              "layer": [
                {"transform": [{"filter": "datum.g == 'open'"}], "mark": {"type": "line", "strokeWidth": 1, "color": "#000"},
                 "encoding": {"x": {"field": "v", "type": "quantitative", "scale": {"domain": [-153.6, 32.2]}, "axis": {"orient": "bottom", "values": [-140, -100, -60, -20, 20], "title": "Voltage (mV)", "labelPadding": 5.5, "titlePadding": 2}},
                              "y": {"field": "y", "type": "quantitative", "scale": {"domain": [-0.1, 1.1]}, "axis": {"orient": "left", "values": [-0.1, 0.3, 0.7, 1.1], "format": ".1f", "title": "Fraction of current", "titlePadding": 3.5}}}},
                {"mark": {"type": "rule", "strokeWidth": 1, "color": "#000"},
                 "encoding": {"x": {"field": "v", "type": "quantitative", "scale": {"domain": [-153.6, 32.2]}},
                              "y": {"field": "lo", "type": "quantitative", "scale": {"domain": [-0.1, 1.1]}}, "y2": {"field": "hi"}}},
                {"mark": {"type": "tick", "orient": "horizontal", "size": 6, "thickness": 1, "color": "#000", "opacity": 1},
                 "encoding": {"x": {"field": "v", "type": "quantitative", "scale": {"domain": [-153.6, 32.2]}},
                              "y": {"field": "lo", "type": "quantitative", "scale": {"domain": [-0.1, 1.1]}}}},
                {"mark": {"type": "tick", "orient": "horizontal", "size": 6, "thickness": 1, "color": "#000", "opacity": 1},
                 "encoding": {"x": {"field": "v", "type": "quantitative", "scale": {"domain": [-153.6, 32.2]}},
                              "y": {"field": "hi", "type": "quantitative", "scale": {"domain": [-0.1, 1.1]}}}},
                {"mark": {"type": "square", "size": 34, "stroke": "#000", "strokeWidth": 0.9, "opacity": 1},
                 "encoding": {"x": {"field": "v", "type": "quantitative", "scale": {"domain": [-153.6, 32.2]}},
                              "y": {"field": "y", "type": "quantitative", "scale": {"domain": [-0.1, 1.1]}},
                              "fill": {"field": "g", "type": "nominal", "scale": {"domain": ["filled", "open"], "range": ["#000", "#fff"]}, "legend": null}}}
              ]
            },
            {
              "data": {"name": "ea"},
              "layer": [
                {"mark": {"type": "line", "strokeWidth": 1, "color": "#000"},
                 "encoding": {"x": {"field": "v", "type": "quantitative", "scale": {"domain": [-153.6, 32.2]}, "axis": null},
                              "y": {"field": "y", "type": "quantitative", "scale": {"domain": [-0.1, 1.1]}, "axis": {"orient": "right", "values": [-0.1, 0.3, 0.7, 1.1], "format": ".1f", "title": "G/Gmax", "titleAngle": 270, "titleBaseline": "top", "titlePadding": 4, "titleY": 58}},
                              "detail": {"field": "g", "type": "nominal"}}},
                {"mark": {"type": "rule", "strokeWidth": 1, "color": "#000"},
                 "encoding": {"x": {"field": "v", "type": "quantitative", "scale": {"domain": [-153.6, 32.2]}, "axis": null},
                              "y": {"field": "lo", "type": "quantitative", "scale": {"domain": [-0.1, 1.1]}}, "y2": {"field": "hi"}}},
                {"mark": {"type": "tick", "orient": "horizontal", "size": 6, "thickness": 1, "color": "#000", "opacity": 1},
                 "encoding": {"x": {"field": "v", "type": "quantitative", "scale": {"domain": [-153.6, 32.2]}, "axis": null},
                              "y": {"field": "lo", "type": "quantitative", "scale": {"domain": [-0.1, 1.1]}}}},
                {"mark": {"type": "tick", "orient": "horizontal", "size": 6, "thickness": 1, "color": "#000", "opacity": 1},
                 "encoding": {"x": {"field": "v", "type": "quantitative", "scale": {"domain": [-153.6, 32.2]}, "axis": null},
                              "y": {"field": "hi", "type": "quantitative", "scale": {"domain": [-0.1, 1.1]}}}},
                {"mark": {"type": "circle", "size": 20, "stroke": "#000", "strokeWidth": 0.8, "opacity": 1},
                 "encoding": {"x": {"field": "v", "type": "quantitative", "scale": {"domain": [-153.6, 32.2]}, "axis": null},
                              "y": {"field": "y", "type": "quantitative", "scale": {"domain": [-0.1, 1.1]}},
                              "fill": {"field": "g", "type": "nominal", "scale": {"domain": ["filled", "open"], "range": ["#000", "#fff"]}, "legend": null}}}
              ]
            },
            {
              "layer": [
                {"data": {"values": [{}]}, "mark": {"type": "rect", "fill": "#fff", "fillOpacity": 0, "stroke": "#000", "strokeWidth": 0.8},
                 "encoding": {"x": {"datum": -65.3, "type": "quantitative", "scale": {"domain": [-65.3, -19], "range": [14.3, 49]}, "axis": {"orient": "bottom", "offset": -13, "values": [-60, -40, -20], "labelFontSize": 5, "tickSize": 2, "labelPadding": 1, "domain": false, "title": null}},
                              "x2": {"datum": -19},
                              "y": {"datum": 0, "type": "quantitative", "scale": {"domain": [0, 0.06], "range": [121, 86]}, "axis": {"orient": "left", "offset": -14.3, "values": [0, 0.03, 0.06], "format": "~g", "labelFontSize": 5, "tickSize": 2, "labelPadding": 1, "domain": false, "title": null}},
                              "y2": {"datum": 0.06}}},
                {"data": {"name": "ins"}, "mark": {"type": "line", "strokeWidth": 0.8, "color": "#000"},
                 "encoding": {"x": {"field": "v", "type": "quantitative", "scale": {"domain": [-65.3, -19], "range": [14.3, 49]}},
                              "y": {"field": "y", "type": "quantitative", "scale": {"domain": [0, 0.06], "range": [121, 86]}},
                              "detail": {"field": "s", "type": "nominal"}}},
                {"data": {"name": "ins"}, "transform": [{"filter": "datum.m == 'c' && datum.y < 0.06"}], "mark": {"type": "circle", "size": 6, "stroke": "#000", "strokeWidth": 0.6, "opacity": 1},
                 "encoding": {"x": {"field": "v", "type": "quantitative", "scale": {"domain": [-65.3, -19], "range": [14.3, 49]}},
                              "y": {"field": "y", "type": "quantitative", "scale": {"domain": [0, 0.06], "range": [121, 86]}},
                              "fill": {"field": "f", "type": "nominal", "scale": {"domain": ["filled", "open"], "range": ["#000", "#fff"]}, "legend": null}}},
                {"data": {"name": "ins"}, "transform": [{"filter": "datum.m == 's' && datum.y < 0.06"}], "mark": {"type": "square", "size": 7, "stroke": "#000", "strokeWidth": 0.6, "opacity": 1},
                 "encoding": {"x": {"field": "v", "type": "quantitative", "scale": {"domain": [-65.3, -19], "range": [14.3, 49]}},
                              "y": {"field": "y", "type": "quantitative", "scale": {"domain": [0, 0.06], "range": [121, 86]}},
                              "fill": {"field": "f", "type": "nominal", "scale": {"domain": ["filled", "open"], "range": ["#000", "#fff"]}, "legend": null}}}
              ]
            }
          ],
          "resolve": {"scale": {"x": "independent", "y": "independent"}, "axis": {"x": "independent", "y": "independent"}}
        }
      ]
    }
  ]
}
